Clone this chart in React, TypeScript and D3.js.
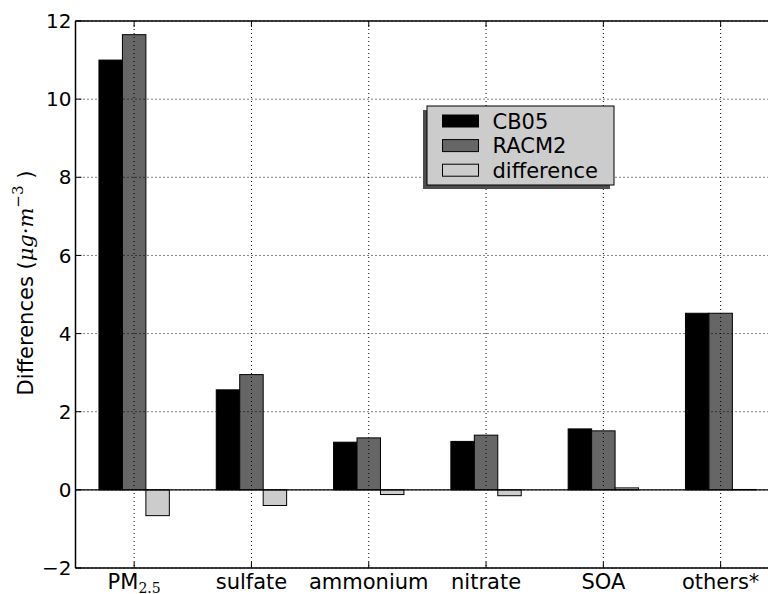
import { useEffect, useRef } from 'react'
import * as d3 from 'd3'

const categories = ['PM', 'sulfate', 'ammonium', 'nitrate', 'SOA', 'others*']
const cb05 = [11.0, 2.56, 1.22, 1.24, 1.56, 4.52]
const racm2 = [11.65, 2.95, 1.33, 1.4, 1.51, 4.52]
const difference = [-0.66, -0.4, -0.12, -0.15, 0.05, 0.01]
const yTicks = [-2, 0, 2, 4, 6, 8, 10, 12]
const seriesNames = ['CB05', 'RACM2', 'difference']

export default function App() {
  const canvas = useRef<SVGSVGElement | null>(null)

  useEffect(() => {
    drawChart()
  }, [])

  const drawChart = () => {
    const width = 768
    const height = 594
    const margin = { top: 21, bottom: 26, left: 75.5 }
    const font = 'DejaVu Sans, sans-serif'
    const fs = '21px'

    const svg = d3.select(canvas.current)
    svg.selectAll('*').remove()

    // x in "bar units": category i spans [i, i+1], tick at i + 0.5
    const xScale = d3.scaleLinear()
      .domain([0, categories.length])
      .range([margin.left, margin.left + 117.3 * categories.length])
    const yScale = d3.scaleLinear()
      .domain([-2, 12])
      .range([height - margin.bottom, margin.top])

    const barW = 0.2
    const series = [cb05, racm2, difference]
    const fills = ['#000000', '#666666', '#cccccc']

    const bars = svg.append('g')
    series.forEach((vals, j) => {
      bars.selectAll(`rect.s${j}`)
        .data(vals)
        .enter()
        .append('rect')
        .attr('x', (_d, i) => xScale(i + 0.2 + j * barW))
        .attr('width', xScale(barW) - xScale(0))
        .attr('y', d => yScale(Math.max(0, d)))
        .attr('height', d => Math.abs(yScale(d) - yScale(0)))
        .attr('fill', fills[j])
        .attr('stroke', '#000')
        .attr('stroke-width', 1)
    })

    // zero line
    svg.append('line')
      .attr('x1', xScale(0)).attr('x2', width)
      .attr('y1', yScale(0)).attr('y2', yScale(0))
      .attr('stroke', '#000').attr('stroke-width', 1.2)

    // grid
    const grid = svg.append('g')
      .attr('stroke', '#000')
      .attr('stroke-width', 1)
      .attr('stroke-dasharray', '1,3')
    grid.selectAll('line.gx')
      .data(categories)
      .enter()
      .append('line')
      .attr('x1', (_d, i) => xScale(i + 0.5))
      .attr('x2', (_d, i) => xScale(i + 0.5))
      .attr('y1', yScale(12)).attr('y2', yScale(-2))
    grid.selectAll('line.gy')
      .data(yTicks)
      .enter()
      .append('line')
      .attr('x1', xScale(0)).attr('x2', width)
      .attr('y1', d => yScale(d)).attr('y2', d => yScale(d))

    // ticks (inward)
    const ticks = svg.append('g').attr('stroke', '#000').attr('stroke-width', 1)
    categories.forEach((_c, i) => {
      const x = xScale(i + 0.5)
      ticks.append('line').attr('x1', x).attr('x2', x).attr('y1', yScale(-2)).attr('y2', yScale(-2) - 6)
      ticks.append('line').attr('x1', x).attr('x2', x).attr('y1', yScale(12)).attr('y2', yScale(12) + 6)
    })
    yTicks.forEach(t => {
      ticks.append('line').attr('x1', xScale(0)).attr('x2', xScale(0) + 6).attr('y1', yScale(t)).attr('y2', yScale(t))
    })

    // frame
    const frame = svg.append('g').attr('stroke', '#000').attr('stroke-width', 1.5).attr('fill', 'none')
    frame.append('line').attr('x1', xScale(0)).attr('x2', xScale(0)).attr('y1', yScale(12)).attr('y2', yScale(-2))
    frame.append('line').attr('x1', xScale(0)).attr('x2', width).attr('y1', yScale(12)).attr('y2', yScale(12))
    frame.append('line').attr('x1', xScale(0)).attr('x2', width).attr('y1', yScale(-2)).attr('y2', yScale(-2))

    // y tick labels
    svg.append('g')
      .selectAll('text')
      .data(yTicks)
      .enter()
      .append('text')
      .attr('x', xScale(0) - 4)
      .attr('y', d => yScale(d))
      .attr('dy', '0.36em')
      .attr('text-anchor', 'end')
      .style('font-family', font)
      .style('font-size', '20px')
      .text(d => (d < 0 ? '\u2212' + Math.abs(d) : String(d)))

    // x tick labels
    const xl = svg.append('g')
    categories.forEach((c, i) => {
      const t = xl.append('text')
        .attr('x', xScale(i + 0.5))
        .attr('y', 589)
        .attr('text-anchor', 'middle')
        .style('font-family', font)
        .style('font-size', fs)
      if (c === 'PM') {
        t.append('tspan').text('PM')
        t.append('tspan')
          .attr('dy', 4)
          .style('font-family', 'DejaVu Serif, serif')
          .style('font-size', '14px')
          .text('2.5')
      } else {
        t.text(c)
      }
    })

    // y label
    const yl = svg.append('text')
      .attr('transform', `translate(33, 283) rotate(-90)`)
      .attr('text-anchor', 'middle')
      .style('font-family', font)
      .style('font-size', fs)
    yl.append('tspan').text('Differences (')
    yl.append('tspan').style('font-family', 'DejaVu Serif, serif').style('font-style', 'italic').text('\u03bcg\u00b7m')
    yl.append('tspan').attr('dy', -10).style('font-size', '15px').style('font-family', 'DejaVu Serif, serif').text('\u22123')
    yl.append('tspan').attr('dy', 10).text(' )')

    // legend
    const lg = svg.append('g')
    const lx = 427, ly = 106, lw = 187, lh = 79
    lg.append('rect').attr('x', lx - 4).attr('y', ly + 4).attr('width', lw).attr('height', lh).attr('fill', '#4d4d4d')
    lg.append('rect').attr('x', lx).attr('y', ly).attr('width', lw).attr('height', lh)
      .attr('fill', '#cccccc').attr('stroke', '#000').attr('stroke-width', 1)
    seriesNames.forEach((name, j) => {
      const cy = 121 + j * 24.6
      lg.append('rect').attr('x', 442.5).attr('y', cy - 6).attr('width', 36).attr('height', 12)
        .attr('fill', fills[j]).attr('stroke', '#000').attr('stroke-width', 1)
      lg.append('text').attr('x', 492.5).attr('y', cy).attr('dy', '0.36em')
        .style('font-family', font).style('font-size', fs).text(name)
    })
  }

  return (
    <div className='sandbox'>
      <svg ref={canvas} width={768} height={594}
        style={{ position: 'absolute', left: 0, top: 0, background: '#fff' }} />
    </div>
  )
}
